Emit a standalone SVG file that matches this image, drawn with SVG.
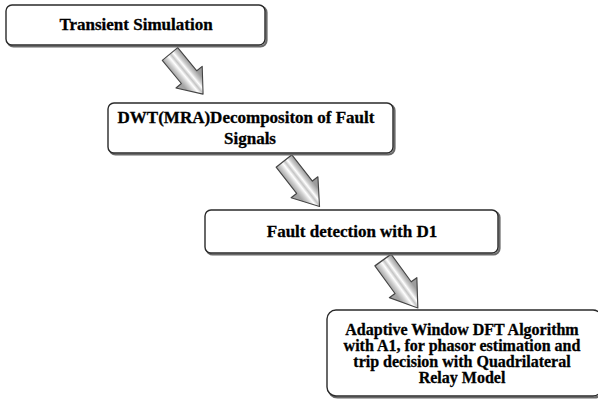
<svg xmlns="http://www.w3.org/2000/svg" xmlns:xlink="http://www.w3.org/1999/xlink" width="598" height="399" viewBox="0 0 598 399">
  <style>
    .box { fill: #ffffff; stroke: #2a2a2a; stroke-width: 1.4; }
    .shadow { fill: none; stroke: #6a6a6a; stroke-width: 2.2; }
    .lbl { font-family: "Liberation Serif", "DejaVu Serif", serif; font-weight: bold; font-size: 17px; fill: #000; stroke: #000; stroke-width: 0.3; text-anchor: middle; }
    .lbl.small { font-size: 16px; }
    .arrow { fill: url(#shaftShade); stroke: #444444; stroke-width: 1.1; stroke-linejoin: round; }
  </style>
  <defs>
    <!-- bevelled grey shading across the block arrow, with two light stripes -->
    <linearGradient id="shaftShade" gradientUnits="userSpaceOnUse" x1="0" y1="-10" x2="0" y2="10">
      <stop offset="0" stop-color="#9c9c9c"/>
      <stop offset="0.22" stop-color="#cfcfcf"/>
      <stop offset="0.34" stop-color="#ffffff"/>
      <stop offset="0.48" stop-color="#c4c4c4"/>
      <stop offset="0.62" stop-color="#ffffff"/>
      <stop offset="0.78" stop-color="#d2d2d2"/>
      <stop offset="1" stop-color="#a4a4a4"/>
    </linearGradient>
    <!-- block arrow pointing along +x, tail at the origin, 52 long -->
    <path id="blockArrow" class="arrow" d="M0,-10 L30,-10 L30,-17 L52,0 L30,17 L30,10 L0,10 Z"/>
  </defs>

  <g id="connectors">
    <use xlink:href="#blockArrow" transform="translate(170,54) rotate(50.5)"/>
    <use xlink:href="#blockArrow" transform="translate(284,161) rotate(52) scale(1.11,1)"/>
    <use xlink:href="#blockArrow" transform="translate(383,260) rotate(54) scale(1.14,1)"/>
  </g>

  <g id="transient-simulation">
    <rect class="shadow" x="7.5" y="6.5" width="259" height="40" rx="6"/>
    <rect class="box" x="6" y="5" width="259" height="40" rx="6"/>
    <text class="lbl" x="136" y="30">Transient Simulation</text>
  </g>

  <g id="dwt-decomposition">
    <rect class="shadow" x="109.5" y="104.5" width="285" height="50" rx="6"/>
    <rect class="box" x="108" y="103" width="285" height="50" rx="6"/>
    <text class="lbl" x="246" y="123" font-size="16.6">DWT(MRA)Decompositon of Fault</text>
    <text class="lbl" x="250" y="144">Signals</text>
  </g>

  <g id="fault-detection">
    <rect class="shadow" x="206.5" y="211.5" width="293" height="43" rx="6"/>
    <rect class="box" x="205" y="210" width="293" height="43" rx="6"/>
    <text class="lbl" x="352" y="237">Fault detection with D1</text>
  </g>

  <g id="adaptive-window-dft">
    <rect class="shadow" x="328.5" y="311.5" width="275" height="86" rx="9"/>
    <rect class="box" x="327" y="310" width="275" height="86" rx="9"/>
    <text class="lbl small" x="462" y="335">Adaptive Window DFT Algorithm</text>
    <text class="lbl small" x="462" y="351">with A1, for phasor estimation and</text>
    <text class="lbl small" x="462" y="367">trip decision with Quadrilateral</text>
    <text class="lbl small" x="462" y="383">Relay Model</text>
  </g>
</svg>
